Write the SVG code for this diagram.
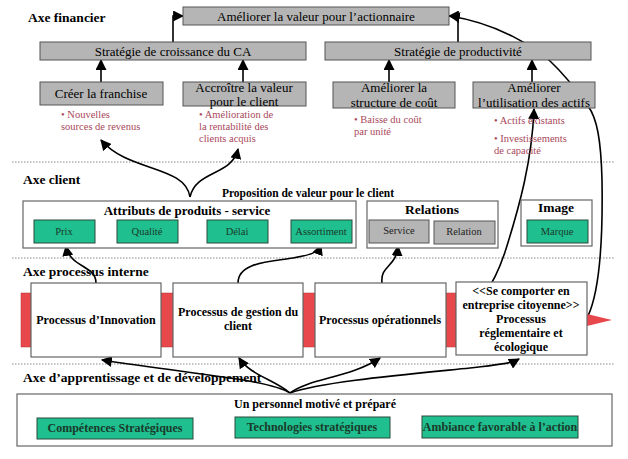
<svg xmlns="http://www.w3.org/2000/svg" width="628" height="459" viewBox="0 0 628 459" font-family="Liberation Serif, serif">
<defs>
<marker id="ah" markerUnits="userSpaceOnUse" markerWidth="11" markerHeight="11" viewBox="0 0 10 10" refX="9" refY="5" orient="auto">
<path d="M0,0 L10,5 L0,10 z" fill="#000"/>
</marker>
</defs>
<style>
text{font-family:'Liberation Serif',serif;fill:#000}
.gray{fill:#b5b5b5;stroke:#555;stroke-width:1}
.white{fill:#fff;stroke:#666;stroke-width:1.2}
.green{fill:#1fbf8f;stroke:#2a4a3a;stroke-width:1}
.red{fill:#e8484c;stroke:#b03030;stroke-width:0.5}
.t13{font-size:13px;text-anchor:middle}
.axe{font-size:13.5px;font-weight:bold}
.note{font-size:10.5px;fill:#a8485a}
.gt{font-size:10.5px;text-anchor:middle;fill:#1a3a2a}
.bt{font-weight:bold;text-anchor:middle}
.pt{font-size:12px}
.lt{font-size:12px;fill:#1a3a2a}
.sep{stroke:#888;stroke-width:1;stroke-dasharray:1.5,1.5}
.ca{fill:none;stroke:#000;stroke-width:1.6;marker-end:url(#ah)}
</style>
<rect width="628" height="459" fill="#fff"/>
<g id="separators">
<line class="sep" x1="12" y1="162" x2="615" y2="162"/>
<line class="sep" x1="12" y1="258" x2="615" y2="258"/>
<line class="sep" x1="12" y1="364" x2="615" y2="364"/>
</g>
<g id="axis-labels">
<text class="axe" x="28" y="22">Axe financier</text>
<text class="axe" x="23" y="184">Axe client</text>
<text class="axe" x="23" y="276">Axe processus interne</text>
<text class="axe" x="23" y="382">Axe d’apprentissage et de développement</text>
</g>
<g id="connectors">
<path class="ca" d="M173,42 V16 H183"/>
<path class="ca" d="M458,42 V16 H449"/>
<path class="ca" d="M101,82 V60"/>
<path class="ca" d="M243,82 V60"/>
<path class="ca" d="M389,82 V60"/>
<path class="ca" d="M532,82 V60"/>
<path class="ca" d="M588,316 C600,290 603,240 602,180 C601,140 597,118 588,106 C578,92 565,75 550,61 C535,48 500,24 450,16"/>
<path class="ca" d="M447,319 C480,311 495,282 505,252 C520,205 532,160 534,109"/>
<path class="ca" d="M190,197 C185,165 128,172 101,140"/>
<path class="ca" d="M190,197 C196,170 232,176 238,149"/>
<path class="ca" d="M96,283 C96,265 70,268 66,246"/>
<path class="ca" d="M238,283 C238,262 270,262 293,258 C310,255 318,253 321,245"/>
<path class="ca" d="M382,283 C380,265 396,268 398,246"/>
<path class="ca" d="M290,393 C270,380 200,375 102,360"/>
<path class="ca" d="M290,393 C275,380 250,375 239,358"/>
<path class="ca" d="M290,393 C310,378 350,378 380,358"/>
<path class="ca" d="M290,393 C320,382 400,375 470,368 C495,365 510,364 519,359"/>
</g>
<g id="n-actionnaire">
<rect class="gray" x="183" y="7" width="266" height="18"/>
<text class="t13" x="316" y="21">Améliorer la valeur pour l’actionnaire</text>
</g>
<g id="n-croissance">
<rect class="gray" x="40" y="42" width="266" height="18"/>
<text class="t13" x="173" y="56">Stratégie de croissance du CA</text>
</g>
<g id="n-productivite">
<rect class="gray" x="325" y="42" width="266" height="18"/>
<text class="t13" x="458" y="56">Stratégie de productivité</text>
</g>
<g id="n-franchise">
<rect class="gray" x="40" y="82" width="123" height="23"/>
<text class="t13" x="101" y="98">Créer la franchise</text>
<text class="note" x="61" y="118">• Nouvelles</text>
<text class="note" x="61" y="130">sources de revenus</text>
</g>
<g id="n-accroitre">
<rect class="gray" x="183" y="82" width="123" height="24"/>
<text class="t13" x="244" y="92">Accroître la valeur</text>
<text class="t13" x="244" y="106">pour le client</text>
<text class="note" x="199" y="118">• Amélioration de</text>
<text class="note" x="199" y="130">la rentabilité des</text>
<text class="note" x="199" y="142">clients acquis</text>
</g>
<g id="n-structure">
<rect class="gray" x="333" y="82" width="122" height="26"/>
<text class="t13" x="394" y="92">Améliorer la</text>
<text class="t13" x="394" y="107">structure de coût</text>
<text class="note" x="354" y="123">• Baisse du coût</text>
<text class="note" x="354" y="135">par unité</text>
</g>
<g id="n-actifs">
<rect class="gray" x="473" y="82" width="122" height="26"/>
<text class="t13" x="534" y="92">Améliorer</text>
<text class="t13" x="534" y="107">l’utilisation des actifs</text>
<text class="note" x="494" y="124">• Actifs existants</text>
<text class="note" x="494" y="142">• Investissements</text>
<text class="note" x="494" y="154">de capacité</text>
</g>
<g id="n-proposition">
<text class="bt" x="308" y="197" style="font-size:11.5px">Proposition de valeur pour le client</text>
</g>
<g id="n-attributs">
<rect class="white" x="23" y="201" width="333" height="47"/>
<text class="bt" x="187" y="215" style="font-size:13px">Attributs de produits - service</text>
<rect class="green" x="34" y="220" width="61" height="23"/>
<text class="gt" x="64" y="235">Prix</text>
<rect class="green" x="117" y="220" width="61" height="23"/>
<text class="gt" x="147" y="235">Qualité</text>
<rect class="green" x="207" y="220" width="61" height="23"/>
<text class="gt" x="237" y="235">Délai</text>
<rect class="green" x="291" y="220" width="61" height="23"/>
<text class="gt" x="321" y="235">Assortiment</text>
</g>
<g id="n-relations">
<rect class="white" x="367" y="201" width="131" height="47"/>
<text class="bt" x="432" y="214" style="font-size:13.5px">Relations</text>
<rect class="gray" x="369" y="220" width="60" height="23"/>
<text class="gt" x="399" y="234" style="fill:#222">Service</text>
<rect class="gray" x="434" y="221" width="61" height="23"/>
<text class="gt" x="464" y="235" style="fill:#222">Relation</text>
</g>
<g id="n-image">
<rect class="white" x="521" y="200" width="71" height="46"/>
<text class="bt" x="556" y="212" style="font-size:13.5px">Image</text>
<rect class="green" x="527" y="220" width="61" height="23"/>
<text class="gt" x="557" y="235">Marque</text>
</g>
<g id="red-bars">
<rect class="red" x="21" y="293" width="10" height="54"/>
<rect class="red" x="161" y="293" width="12" height="54"/>
<rect class="red" x="303" y="293" width="12" height="54"/>
<rect class="red" x="446" y="293" width="10" height="54"/>
<polygon points="587,314 612,320 587,326" fill="#e8484c"/>
</g>
<g id="n-innovation">
<rect class="white" x="31" y="283" width="130" height="74"/>
<text class="bt pt" x="96" y="324">Processus d’Innovation</text>
</g>
<g id="n-gestion">
<rect class="white" x="173" y="283" width="130" height="74"/>
<text class="bt pt" x="238" y="316">Processus de gestion du</text>
<text class="bt pt" x="238" y="330">client</text>
</g>
<g id="n-operationnels">
<rect class="white" x="315" y="283" width="131" height="74"/>
<text class="bt pt" x="380" y="324">Processus opérationnels</text>
</g>
<g id="n-reglementaire">
<rect class="white" x="456" y="282" width="131" height="73"/>
<text class="bt pt" x="521" y="295">&lt;&lt;Se comporter en</text>
<text class="bt pt" x="521" y="309">entreprise citoyenne&gt;&gt;</text>
<text class="bt pt" x="521" y="323">Processus</text>
<text class="bt pt" x="521" y="337">réglementaire et</text>
<text class="bt pt" x="521" y="351">écologique</text>
</g>
<g id="n-personnel">
<rect class="white" x="17" y="394" width="595" height="52"/>
<text class="bt pt" x="315" y="408">Un personnel motivé et préparé</text>
<rect class="green" x="37" y="418" width="156" height="21"/>
<text class="bt lt" x="115" y="432">Compétences Stratégiques</text>
<rect class="green" x="235" y="417" width="155" height="21"/>
<text class="bt lt" x="312" y="431">Technologies stratégiques</text>
<rect class="green" x="422" y="416" width="156" height="22"/>
<text class="bt lt" x="500" y="431">Ambiance favorable à l’action</text>
</g>
</svg>
